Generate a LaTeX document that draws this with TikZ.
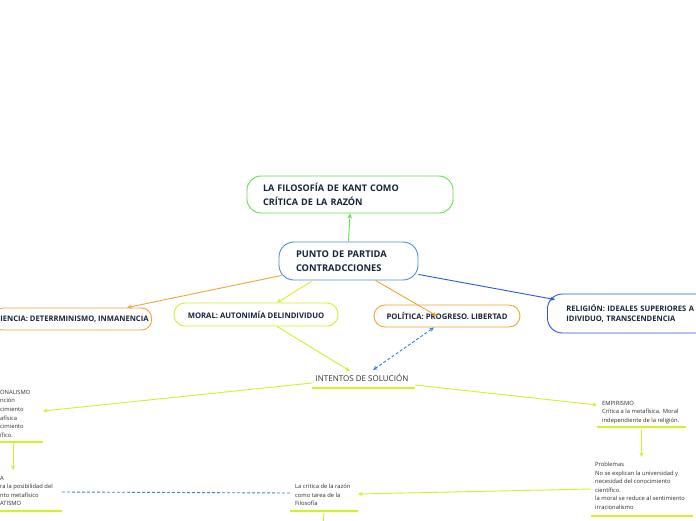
\documentclass[tikz,border=0pt]{standalone}
\usepackage{fontspec}
\setmainfont{Open Sans}
\usetikzlibrary{arrows.meta,calc}
\definecolor{kgreen}{RGB}{100,222,80}
\definecolor{klime}{RGB}{212,240,40}
\definecolor{korange}{RGB}{246,162,52}
\definecolor{kltblue}{RGB}{74,142,212}
\definecolor{kblue}{RGB}{40,88,224}
\definecolor{kdash}{RGB}{50,130,222}
\definecolor{boxtext}{RGB}{22,38,58}
\definecolor{plaintext}{RGB}{45,45,45}
\begin{document}
\begin{tikzpicture}[x=1pt,y=-1pt,
  box/.style={draw, rounded corners=#1, line width=0.9pt, text=boxtext, inner sep=0pt},
  ptext/.style={anchor=north west, inner sep=0pt, align=left, text=plaintext,
                font=\fontsize{5.8}{8.6}\selectfont},
  uline/.style={draw=klime, line width=1.6pt},
  conn/.style={line width=0.9pt, -{Stealth[length=4.5pt,width=4pt]}},
  dconn/.style={line width=0.9pt, dash pattern=on 3pt off 2pt, draw=kdash}]
\clip (0,0) rectangle (696,520);
\fill[white] (0,0) rectangle (696,520);

% boxes
\node[box=14pt, draw=kgreen, minimum width=206pt, minimum height=37pt, text width=174pt,
      align=left, font=\fontsize{9.1}{14}\selectfont\bfseries] (top) at (350,194.5)
      {LA FILOSOFÍA DE KANT COMO\\CRÍTICA DE LA RAZÓN};
\node[box=15pt, draw=kltblue, minimum width=139pt, minimum height=38pt, text width=105pt,
      align=left, font=\fontsize{9.3}{14}\selectfont\bfseries] (punto) at (348.5,261)
      {PUNTO DE PARTIDA\\CONTRADCCIONES};
\node[box=10pt, draw=korange, minimum height=22pt, anchor=east, inner xsep=3pt,
      font=\fontsize{7.6}{9}\selectfont\bfseries] (cie) at (152,319)
      {CIENCIA: DETERRMINISMO, INMANENCIA};
\node[box=11pt, draw=klime, minimum width=164pt, minimum height=23pt,
      font=\fontsize{7.7}{9}\selectfont\bfseries] (moral) at (256,314.5)
      {MORAL: AUTONIMÍA DELINDIVIDUO};
\node[box=11pt, draw=korange, minimum width=146pt, minimum height=22pt,
      font=\fontsize{7.7}{9}\selectfont\bfseries] (pol) at (447,316)
      {POLÍTICA: PROGRESO. LIBERTAD};
\node[box=15pt, draw=kblue, minimum height=39pt, anchor=west, inner xsep=19pt,
      text width=170pt, align=left, font=\fontsize{7.6}{10}\selectfont\bfseries] (rel) at (547,313.5)
      {RELIGIÓN: IDEALES SUPERIORES A\\IDIVIDUO, TRANSCENDENCIA};

% plain text nodes
\node[inner sep=0pt, text=plaintext, font=\fontsize{8}{9}\selectfont] (int) at (362,378)
      {INTENTOS DE SOLUCIÓN};
\node[ptext] (rac) at (0,389.8)
      {ONALISMO\\nción\\cimiento\\afísica\\cimiento\\ífico.};
\node[ptext] (ll) at (0,475.8)
      {A\\ra la posibilidad del\\nto metafísico\\ATISMO};
\node[ptext] (emp) at (602,400.8)
      {EMPIRISMO\\Crítica a la metafísica. Moral\\independiente de la religión.};
\node[ptext] (prob) at (595,461.8)
      {Problemas\\No se explican la universidad y\\necesidad del conocimiento\\científico.\\la moral se reduce al sentimiento\\irracionalismo};
\node[ptext] (crit) at (295,483.8)
      {La critica de la razón\\como tarea de la\\Filosofía};

% underline end points
\coordinate (intL) at (312,388);  \coordinate (intR) at (415,388);
\coordinate (racL) at (0,442);    \coordinate (racR) at (43,442);
\coordinate (llL) at (0,511);     \coordinate (llR) at (62,511);
\coordinate (empL) at (597,427);  \coordinate (empR) at (686,427);
\coordinate (probL) at (591,516); \coordinate (probR) at (693,516);
\coordinate (critL) at (290,511); \coordinate (critR) at (358,511);
\draw[uline] (intL) -- (intR);
\draw[uline] (racL) -- (racR);
\draw[uline] (llL) -- (llR);
\draw[uline] (empL) -- (empR);
\draw[uline] (probL) -- (probR);
\draw[uline] (critL) -- (critR);

% connectors
\draw[conn, draw=kgreen, -{Stealth[length=5pt,width=4.5pt]}] (punto.north) -- (top.south);
\draw[conn, draw=korange] ($(punto.south west)+(3,-5)$) -- ($(cie.north east)+(-25,0)$);
\draw[conn, draw=klime] ($(punto.south west)+(33,1)$) -- ($(moral.north)+(21,0)$);
\draw[conn, draw=korange] ($(punto.south)+(27,0)$) -- ($(pol.center)+(-10,0)$);
\draw[conn, draw=kblue] ($(punto.south east)+(0,-6)$) -- ($(rel.north west)+(8,6)$);
\draw[conn, draw=klime] ($(moral.south)+(21,0)$) -- ($(int.center)+(-12,-7)$);
\draw[dconn, {Stealth[length=4.5pt,width=4pt]}-{Stealth[length=4.5pt,width=4pt]}]
      ($(int.center)+(11,-8)$) -- ($(pol.south)+(-13,0)$);
\draw[conn, draw=klime] ($(intL)+(0,-5)$) -- ($(racR)+(0,-31)$);
\draw[conn, draw=klime] ($(intR)+(0,-3)$) -- ($(empL)+(0,-22)$);
\draw[conn, draw=klime] ($(racL)+(13,1)$) -- ($(racL)+(13,28)$);
\draw[conn, draw=klime] ($(empL)!0.5!(empR)+(0,3)$) -- ($(empL)!0.5!(empR)+(0,30)$);
\draw[conn, draw=klime] ($(probL)+(0,-27)$) -- ($(critR)+(0,-17)$);
\draw[dconn] ($(llR)+(0,-19)$) -- ($(critL)+(0,-18)$);
\draw[line width=0.9pt, draw=klime] ($(critL)!0.5!(critR)+(-1,3)$) -- ($(critL)!0.5!(critR)+(-1,14)$);
\end{tikzpicture}
\end{document}
